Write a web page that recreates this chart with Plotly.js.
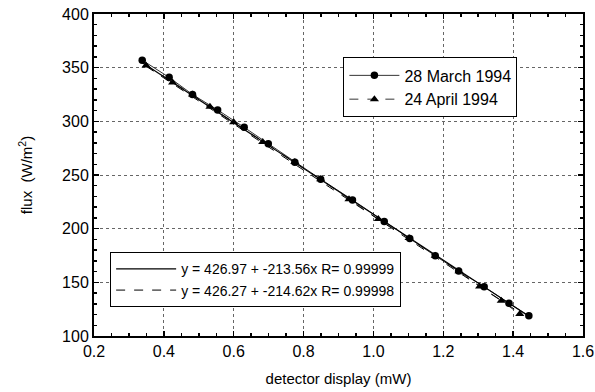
<!DOCTYPE html>
<html>
<head>
<meta charset="utf-8">
<script src="https://cdn.plot.ly/plotly-3.0.1.min.js"></script>
<style>html,body{margin:0;padding:0;background:#fff}#chart{width:595px;height:392px}</style>
</head>
<body>
<div id="chart"></div>
<script>
// 28 March 1994 (circles)
const marchX = [0.338, 0.415, 0.482, 0.554, 0.630, 0.699, 0.775, 0.849, 0.940, 1.031, 1.104, 1.177, 1.244, 1.317, 1.388, 1.445];
const marchY = [357.0, 341.0, 325.0, 310.6, 294.4, 279.0, 261.8, 246.1, 226.8, 206.7, 190.8, 174.7, 160.5, 145.9, 130.6, 118.8];
// 24 April 1994 (triangles)
const aprilX = [0.349, 0.425, 0.482, 0.532, 0.600, 0.683, 0.775, 0.849, 0.930, 1.014, 1.102, 1.177, 1.245, 1.304, 1.366, 1.419];
const aprilY = [352.0, 336.2, 325.0, 313.7, 299.2, 280.8, 262.0, 246.0, 227.5, 208.9, 191.2, 174.7, 160.4, 146.1, 132.8, 120.4];
// linear fits as printed on the chart
const fitNames = ['y = 426.97 + -213.56x R= 0.99999', 'y = 426.27 + -214.62x R= 0.99998'];
const fitIntercept = [426.97, 426.27];
const fitSlope = [-213.56, -214.62];
const seriesNames = ['28 March 1994', '24 April 1994'];

function fitLine(xs, i) {
  const x0 = Math.min(...xs), x1 = Math.max(...xs);
  return {x: [x0, x1], y: [fitIntercept[i] + fitSlope[i] * x0, fitIntercept[i] + fitSlope[i] * x1]};
}
const f1 = fitLine(marchX, 0), f2 = fitLine(aprilX, 1);

const traces = [
  {x: f1.x, y: f1.y, name: fitNames[0], mode: 'lines', legend: 'legend2',
   line: {color: '#000', width: 1.2}},
  {x: f2.x, y: f2.y, name: fitNames[1], mode: 'lines', legend: 'legend2',
   line: {color: '#000', width: 1, dash: 'dash'}},
  {x: marchX, y: marchY, name: seriesNames[0], mode: 'lines+markers', legend: 'legend',
   line: {color: '#000', width: 0.8}, marker: {symbol: 'circle', size: 7.5, color: '#000'}},
  {x: aprilX, y: aprilY, name: seriesNames[1], mode: 'lines+markers', legend: 'legend',
   line: {color: '#000', width: 0.8, dash: 'dash'}, marker: {symbol: 'triangle-up', size: 8, color: '#000'}}
];

const font = {family: 'Liberation Sans, Arial, sans-serif', color: '#000'};
const axisCommon = {
  showline: true, linecolor: '#000', linewidth: 2, mirror: 'allticks',
  ticks: 'inside', ticklen: 5, tickwidth: 1.5, tickcolor: '#000',
  showgrid: true, gridcolor: '#666', griddash: 'dot', gridwidth: 1,
  zeroline: false, tickfont: {size: 16, family: font.family, color: '#000'}
};
const layout = {
  width: 595, height: 392,
  margin: {l: 94, r: 12, t: 14, b: 56},
  paper_bgcolor: '#fff', plot_bgcolor: '#fff',
  font: font,
  xaxis: Object.assign({}, axisCommon, {
    range: [0.2, 1.6], dtick: 0.2, tickformat: '.1f',
    minor: {dtick: 0.05, ticks: 'inside', ticklen: 3, tickcolor: '#000', showgrid: false},
    title: {text: 'detector display (mW)', font: {size: 15}, standoff: 14}
  }),
  yaxis: Object.assign({}, axisCommon, {
    range: [100, 400], dtick: 50,
    minor: {dtick: 10, ticks: 'inside', ticklen: 3, tickcolor: '#000', showgrid: false},
    title: {text: 'flux  (W/m<sup>2</sup>)', font: {size: 15}, standoff: 26}
  }),
  showlegend: true,
  legend: {x: 0.51, y: 0.865, xanchor: 'left', yanchor: 'top',
    bgcolor: '#fff', bordercolor: '#000', borderwidth: 1, traceorder: 'normal',
    font: {size: 16, family: font.family, color: '#000'}, tracegroupgap: 0, itemwidth: 50},
  legend2: {x: 0.033, y: 0.26, xanchor: 'left', yanchor: 'top',
    bgcolor: '#fff', bordercolor: '#000', borderwidth: 1, traceorder: 'normal',
    font: {size: 14, family: font.family, color: '#000'}, itemwidth: 60}
};
Plotly.newPlot('chart', traces, layout, {displayModeBar: false, staticPlot: true});
</script>
</body>
</html>
